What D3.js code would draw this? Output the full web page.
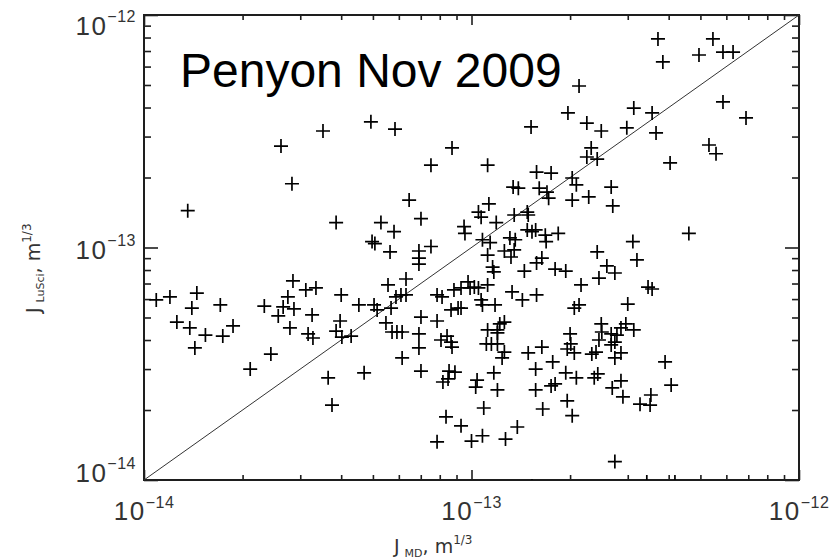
<!DOCTYPE html>
<html>
<head>
<meta charset="utf-8">
<script src="https://cdn.jsdelivr.net/npm/d3@7"></script>
<style>
  html, body { margin: 0; padding: 0; background: #fff; }
  svg { display: block; }
</style>
</head>
<body>
<svg id="chart" width="836" height="560"></svg>
<script>
// J_MD (x) and J_LuSci (y) structure-function estimates, m^(1/3)
const jMD = [
  3.52e-14, 2.62e-14, 2.83e-14, 1.36e-14, 3.86e-14, 2.13e-13, 1.97e-13, 4.93e-14, 5.84e-14, 1.52e-13,
  8.72e-14, 7.52e-14, 1.12e-13, 1.58e-13, 1.75e-13, 2.03e-13, 2.09e-13, 2.03e-13, 1.34e-13, 1.39e-13,
  1.61e-13, 1.70e-13, 1.72e-13, 6.45e-14, 1.13e-13, 1.05e-13, 1.07e-13, 1.48e-13, 1.49e-13, 7.01e-14,
  5.29e-14, 5.80e-14, 9.49e-14, 9.55e-14, 1.35e-13, 1.19e-13, 4.97e-14, 5.07e-14, 7.52e-14, 1.08e-13,
  1.14e-13, 1.31e-13, 1.36e-13, 1.48e-13, 1.53e-13, 1.57e-13, 1.68e-13, 1.69e-13, 1.84e-13, 2.67e-13,
  2.28e-13, 2.70e-13, 3.11e-13, 4.61e-13, 3.71e-13, 5.46e-13, 4.95e-13, 5.86e-13, 6.29e-13, 3.84e-13,
  5.86e-13, 6.89e-13, 3.13e-13, 3.56e-13, 2.98e-13, 2.49e-13, 2.25e-13, 3.66e-13, 5.31e-13, 5.58e-13,
  2.32e-13, 2.25e-13, 2.42e-13, 4.04e-13,
  1.09e-14, 1.20e-14, 1.45e-14, 1.40e-14, 1.26e-14, 1.38e-14, 1.43e-14, 1.54e-14, 1.71e-14, 1.74e-14,
  1.87e-14, 2.11e-14, 2.33e-14, 2.44e-14, 2.57e-14, 2.66e-14, 2.75e-14, 2.85e-14, 2.87e-14, 2.79e-14,
  3.12e-14, 3.35e-14, 3.26e-14, 3.17e-14, 3.28e-14, 3.65e-14, 3.75e-14, 4.00e-14, 3.97e-14, 3.86e-14,
  4.02e-14, 4.29e-14, 4.53e-14, 4.70e-14, 5.64e-14, 6.91e-14, 6.91e-14, 6.91e-14, 5.56e-14, 6.31e-14,
  5.88e-14, 6.09e-14, 6.31e-14, 5.68e-14, 5.04e-14, 5.15e-14, 5.48e-14, 5.72e-14, 5.92e-14, 6.14e-14,
  6.14e-14, 7.01e-14, 7.85e-14, 6.91e-14, 6.91e-14, 7.01e-14, 7.85e-14, 8.13e-14, 8.84e-14, 9.29e-14,
  9.76e-14, 9.90e-14, 1.02e-13, 1.05e-13, 1.07e-13, 1.08e-13, 1.12e-13, 1.18e-13, 8.66e-14, 9.10e-14,
  9.29e-14, 8.07e-14, 8.42e-14, 8.66e-14, 8.72e-14, 8.54e-14, 8.90e-14, 8.18e-14, 8.48e-14, 1.04e-13,
  1.03e-13, 1.20e-13, 1.17e-13, 1.33e-13, 1.43e-13, 1.58e-13, 1.12e-13, 1.20e-13, 1.22e-13, 1.26e-13,
  1.20e-13, 1.11e-13, 1.15e-13, 1.20e-13, 1.26e-13, 1.24e-13, 1.49e-13, 1.64e-13, 1.57e-13, 1.77e-13,
  1.09e-13, 8.36e-14, 9.29e-14, 7.85e-14, 1.00e-13, 1.08e-13, 1.27e-13, 1.38e-13, 1.57e-13, 1.65e-13,
  1.75e-13, 1.80e-13, 1.94e-13, 2.09e-13, 1.96e-13, 2.03e-13, 2.00e-13, 2.01e-13, 2.06e-13, 1.96e-13,
  2.06e-13, 2.13e-13, 1.80e-13, 1.94e-13, 1.45e-13, 1.58e-13, 1.64e-13, 1.32e-13, 1.35e-13, 1.26e-13,
  1.12e-13, 1.16e-13, 1.17e-13, 2.16e-13, 2.42e-13, 3.20e-13, 2.59e-13, 2.74e-13, 2.45e-13, 3.46e-13,
  3.56e-13, 3.00e-13, 2.49e-13, 2.50e-13, 2.45e-13, 2.33e-13, 2.40e-13, 2.37e-13, 2.43e-13, 2.67e-13,
  2.74e-13, 2.74e-13, 2.86e-13, 2.78e-13, 2.86e-13, 2.96e-13, 2.67e-13, 3.13e-13, 2.69e-13, 2.86e-13,
  2.90e-13, 3.27e-13, 3.51e-13, 3.53e-13, 3.90e-13, 4.07e-13, 2.74e-13, 3.43e-13, 4.18e-13, 1.53e-13
];
const jLuSci = [
  3.17e-13, 2.73e-13, 1.88e-13, 1.44e-13, 1.28e-13, 4.95e-13, 3.79e-13, 3.47e-13, 3.23e-13, 3.30e-13,
  2.68e-13, 2.26e-13, 2.26e-13, 2.11e-13, 2.09e-13, 1.99e-13, 1.86e-13, 1.60e-13, 1.82e-13, 1.80e-13,
  1.80e-13, 1.73e-13, 1.63e-13, 1.60e-13, 1.54e-13, 1.42e-13, 1.35e-13, 1.42e-13, 1.38e-13, 1.33e-13,
  1.28e-13, 1.17e-13, 1.23e-13, 1.15e-13, 1.38e-13, 1.28e-13, 1.06e-13, 1.04e-13, 1.01e-13, 1.08e-13,
  1.05e-13, 1.10e-13, 1.08e-13, 1.19e-13, 1.17e-13, 1.19e-13, 1.13e-13, 1.06e-13, 1.15e-13, 1.82e-13,
  1.65e-13, 1.51e-13, 1.06e-13, 1.15e-13, 7.89e-13, 7.89e-13, 6.73e-13, 6.93e-13, 6.93e-13, 6.28e-13,
  4.23e-13, 3.61e-13, 3.98e-13, 3.79e-13, 3.27e-13, 3.17e-13, 3.43e-13, 3.11e-13, 2.76e-13, 2.53e-13,
  2.68e-13, 2.45e-13, 2.40e-13, 2.31e-13,
  5.95e-14, 6.13e-14, 6.37e-14, 5.49e-14, 4.78e-14, 4.51e-14, 3.70e-14, 4.20e-14, 5.66e-14, 4.16e-14,
  4.60e-14, 3.00e-14, 5.60e-14, 3.48e-14, 5.08e-14, 5.55e-14, 6.13e-14, 7.18e-14, 5.44e-14, 4.51e-14,
  6.57e-14, 6.70e-14, 5.13e-14, 4.25e-14, 4.08e-14, 2.75e-14, 2.10e-14, 6.25e-14, 4.83e-14, 4.37e-14,
  4.12e-14, 4.16e-14, 5.66e-14, 2.89e-14, 9.57e-14, 9.66e-14, 9.01e-14, 8.49e-14, 6.90e-14, 7.32e-14,
  6.13e-14, 6.25e-14, 6.25e-14, 5.49e-14, 5.66e-14, 5.39e-14, 4.74e-14, 4.33e-14, 4.33e-14, 4.33e-14,
  3.35e-14, 5.02e-14, 4.83e-14, 4.25e-14, 3.70e-14, 2.94e-14, 6.25e-14, 6.13e-14, 6.57e-14, 6.70e-14,
  7.11e-14, 6.70e-14, 6.76e-14, 6.70e-14, 5.95e-14, 5.66e-14, 6.90e-14, 5.66e-14, 5.39e-14, 5.49e-14,
  5.49e-14, 4.00e-14, 4.16e-14, 3.92e-14, 3.73e-14, 2.94e-14, 2.91e-14, 2.64e-14, 2.72e-14, 2.69e-14,
  2.51e-14, 2.44e-14, 2.89e-14, 6.44e-14, 5.95e-14, 6.25e-14, 4.42e-14, 4.42e-14, 4.69e-14, 4.78e-14,
  4.29e-14, 3.85e-14, 3.85e-14, 3.85e-14, 3.55e-14, 3.35e-14, 3.52e-14, 3.73e-14, 3.00e-14, 3.22e-14,
  2.04e-14, 1.87e-14, 1.71e-14, 1.46e-14, 1.47e-14, 1.55e-14, 1.50e-14, 1.69e-14, 2.44e-14, 2.02e-14,
  2.54e-14, 2.59e-14, 2.89e-14, 2.75e-14, 2.19e-14, 1.89e-14, 4.25e-14, 3.85e-14, 3.52e-14, 3.66e-14,
  5.49e-14, 5.66e-14, 8.08e-14, 7.92e-14, 7.92e-14, 8.58e-14, 9.01e-14, 9.10e-14, 9.76e-14, 9.66e-14,
  9.28e-14, 8.24e-14, 7.85e-14, 6.90e-14, 9.57e-14, 8.84e-14, 8.33e-14, 7.77e-14, 7.39e-14, 6.76e-14,
  6.63e-14, 5.71e-14, 4.69e-14, 4.33e-14, 4.00e-14, 3.48e-14, 3.55e-14, 2.75e-14, 2.86e-14, 3.81e-14,
  3.92e-14, 3.35e-14, 3.52e-14, 4.20e-14, 4.51e-14, 4.69e-14, 4.25e-14, 4.42e-14, 2.49e-14, 2.67e-14,
  2.28e-14, 2.12e-14, 2.10e-14, 2.32e-14, 3.22e-14, 2.56e-14, 1.20e-14, 9.8e-15, 9.8e-15, 9.4e-15
];

// Axis decades and their label exponents
const decadeTicks = [1e-14, 1e-13, 1e-12];
const decadeExponents = ["\u221214", "\u221213", "\u221212"];
const minorMantissas = [2, 3, 4, 5, 6, 7, 8, 9];
const titleText = "Penyon Nov 2009";

const svg = d3.select("#chart");
const plot = { left: 144, right: 799, top: 15, bottom: 480 };

const x = d3.scaleLog().domain([1e-14, 1e-12]).range([plot.left, plot.right]);
const y = d3.scaleLog().domain([1e-14, 1e-12]).range([plot.bottom, plot.top]);

const minorTicks = decadeTicks.slice(0, -1).flatMap(d => minorMantissas.map(m => m * d));

const ink = "#1e1e1e";
const labelFont = "'Liberation Sans', Arial, sans-serif";
const titleFont = "'DejaVu Sans', 'Liberation Sans', sans-serif";
const labelInk = "#333";

svg.append("defs").append("clipPath").attr("id", "plotClip")
  .append("rect")
  .attr("x", plot.left).attr("y", plot.top)
  .attr("width", plot.right - plot.left).attr("height", plot.bottom - plot.top);

// Ticks drawn inward on all four sides
function tickLayer(axis, transform) {
  svg.append("g")
    .attr("transform", transform)
    .call(axis)
    .call(g => g.select(".domain").remove())
    .call(g => g.selectAll("text").remove())
    .call(g => g.selectAll("line").attr("stroke", ink).attr("stroke-width", 1.6));
}
const xMinor = 5, xMajor = 10, yMinor = 7, yMajor = 14;
tickLayer(d3.axisBottom(x).tickValues(minorTicks).tickSize(-xMinor), `translate(0,${plot.bottom})`);
tickLayer(d3.axisBottom(x).tickValues(decadeTicks).tickSize(-xMajor), `translate(0,${plot.bottom})`);
tickLayer(d3.axisTop(x).tickValues(minorTicks).tickSize(-xMinor), `translate(0,${plot.top})`);
tickLayer(d3.axisTop(x).tickValues(decadeTicks).tickSize(-xMajor), `translate(0,${plot.top})`);
tickLayer(d3.axisLeft(y).tickValues(minorTicks).tickSize(-yMinor), `translate(${plot.left},0)`);
tickLayer(d3.axisLeft(y).tickValues(decadeTicks).tickSize(-yMajor), `translate(${plot.left},0)`);
tickLayer(d3.axisRight(y).tickValues(minorTicks).tickSize(-yMinor), `translate(${plot.right},0)`);
tickLayer(d3.axisRight(y).tickValues(decadeTicks).tickSize(-yMajor), `translate(${plot.right},0)`);

// Frame
svg.append("rect")
  .attr("x", plot.left).attr("y", plot.top)
  .attr("width", plot.right - plot.left).attr("height", plot.bottom - plot.top)
  .attr("fill", "none").attr("stroke", ink).attr("stroke-width", 2);

// One-to-one line
svg.append("line")
  .attr("x1", x(1e-14)).attr("y1", y(1e-14))
  .attr("x2", x(1e-12)).attr("y2", y(1e-12))
  .attr("stroke", "#333").attr("stroke-width", 1);

// Cross markers
const points = jMD.map((v, i) => ({ x: v, y: jLuSci[i] }));
svg.append("g")
  .attr("clip-path", "url(#plotClip)")
  .selectAll("path")
  .data(points)
  .join("path")
  .attr("transform", d => `translate(${x(d.x)},${y(d.y)})`)
  .attr("d", "M-7,0H7M0,-7V7")
  .attr("stroke", "#000")
  .attr("stroke-width", 1.7)
  .attr("fill", "none");

// X tick labels: 10^n centred under each decade
const xLabels = svg.append("g");
decadeTicks.forEach((t, i) => {
  const txt = xLabels.append("text")
    .attr("x", x(t)).attr("y", 520)
    .attr("text-anchor", "middle")
    .attr("font-family", labelFont).attr("font-size", 26)
    .attr("letter-spacing", 1.5).attr("fill", labelInk);
  txt.append("tspan").text("10");
  txt.append("tspan").attr("dy", -12).attr("font-size", 16).attr("letter-spacing", 0.5).text(decadeExponents[i]);
});

// Y tick labels: right aligned left of the axis
const yLabels = svg.append("g");
decadeTicks.forEach((t, i) => {
  const py = y(t);
  const shift = 20 - 18 * (py - plot.top) / (plot.bottom - plot.top);
  const txt = yLabels.append("text")
    .attr("x", 136).attr("y", py + shift)
    .attr("text-anchor", "end")
    .attr("font-family", labelFont).attr("font-size", 26)
    .attr("letter-spacing", 1.5).attr("fill", labelInk);
  txt.append("tspan").text("10");
  txt.append("tspan").attr("dy", -13).attr("font-size", 16).attr("letter-spacing", 0.5).text(decadeExponents[i]);
});

// Axis titles
const xTitle = svg.append("text")
  .attr("x", 394).attr("y", 553)
  .attr("font-family", titleFont).attr("font-size", 19).attr("fill", labelInk);
xTitle.append("tspan").text("J");
xTitle.append("tspan").attr("dx", 5).attr("dy", 4).attr("font-size", 11).text("MD");
xTitle.append("tspan").attr("dy", -4).text(", m");
xTitle.append("tspan").attr("dy", -9).attr("font-size", 12).text("1/3");

const yTitle = svg.append("text")
  .attr("transform", "translate(40,313) rotate(-90)")
  .attr("font-family", titleFont).attr("font-size", 19).attr("fill", labelInk);
yTitle.append("tspan").text("J");
yTitle.append("tspan").attr("dx", 5).attr("dy", 4).attr("font-size", 11).text("LuSci");
yTitle.append("tspan").attr("dy", -4).text(", m");
yTitle.append("tspan").attr("dy", -9).attr("font-size", 12).text("1/3");

// In-plot title
svg.append("text")
  .attr("x", 180).attr("y", 87)
  .attr("font-family", "'Liberation Sans', Arial, sans-serif")
  .attr("font-size", 48).attr("fill", "#000")
  .text(titleText);
</script>
</body>
</html>
